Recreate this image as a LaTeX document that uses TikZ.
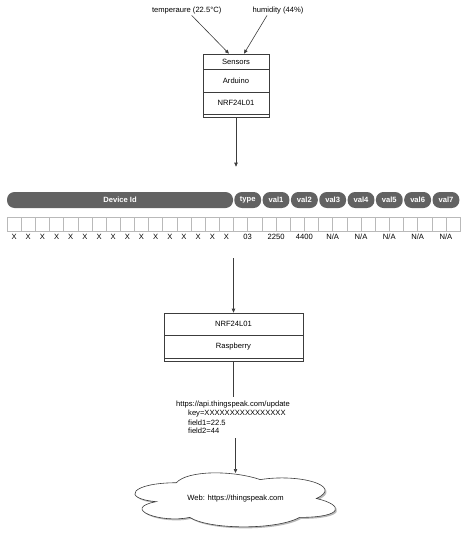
\documentclass[tikz,border=0pt]{standalone}
\usepackage{fontspec}
\setmainfont{Liberation Sans}
\usetikzlibrary{arrows.meta}
\definecolor{pillgray}{RGB}{98,98,98}
\definecolor{cellgray}{RGB}{185,185,185}
\definecolor{linegray}{RGB}{60,60,60}
\begin{document}
\begin{tikzpicture}[x=1pt,y=-1pt,
  txt/.style={font=\fontsize{7.6}{9}\selectfont, inner sep=1pt},
  rowbox/.style={draw=linegray, line width=0.6pt, fill=white, inner sep=0pt, font=\fontsize{7.6}{9}\selectfont},
  pill/.style={fill=pillgray, rounded corners=7.5pt, minimum height=16pt, inner sep=0pt, text=white, font=\fontsize{7.6}{9}\selectfont\bfseries},
  cellbox/.style={draw=cellgray, line width=0.6pt, fill=white, minimum width=14.16pt, minimum height=14pt, inner sep=0pt},
  arr/.style={-{Triangle[length=4pt,width=3.4pt]}, line width=0.6pt, draw=linegray},
  conn/.style={line width=0.6pt, draw=linegray},
  cloudline/.style={line width=0.6pt, draw=linegray}
]
\useasboundingbox (0,0) rectangle (467,543);

% top labels
\node[txt] (temp) at (186.7,10.7) {temperaure (22.5°C)};
\node[txt] (hum) at (278,10.7) {humidity (44\%)};

% MCU box
\node[rowbox, minimum width=66pt, minimum height=15pt] (sens) at (236,61.5) {Sensors};
\node[rowbox, minimum width=66pt, minimum height=23pt] (ard) at (236,80.5) {Arduino};
\node[rowbox, minimum width=66pt, minimum height=22pt] (nrf) at (236,103) {NRF24L01};
\node[rowbox, minimum width=66pt, minimum height=3pt] (strip1) at (236,115.5) {};

\draw[arr] ([xshift=5pt]temp.south) -- ([xshift=-7pt]sens.north);
\draw[arr] ([xshift=-11pt]hum.south) -- ([xshift=8pt]sens.north);

\coordinate (a1) at (236,166.7);
\draw[arr] (strip1.south) -- (a1);

% packet header pills
\node[pill, minimum width=226pt] (devid) at (120,200) {Device Id};
\foreach \i/\t in {0/type,1/val1,2/val2,3/val3,4/val4,5/val5,6/val6,7/val7}{
  \node[pill, minimum width=26.8pt] (f\i) at ({7+14.16*(17+2*\i)},200) {\t};
}

% cells
\foreach \k in {0,...,31}{
  \node[cellbox] (c\k) at ({7+14.16*(\k+0.5)},224) {};
}
\foreach \k in {0,...,15}{
  \node[txt] (x\k) at ({7+14.16*(\k+0.5)},237) {X};
}
\foreach \i/\t in {0/03,1/2250,2/4400,3/N\slash A,4/N\slash A,5/N\slash A,6/N\slash A,7/N\slash A}{
  \node[txt] (v\i) at ({7+14.16*(17+2*\i)},236.8) {\t};
}

% Raspberry box
\node[rowbox, minimum width=139pt, minimum height=22pt] (nrf2) at (233.5,324) {NRF24L01};
\node[rowbox, minimum width=139pt, minimum height=23.3pt] (rasp) at (233.5,346.7) {Raspberry};
\node[rowbox, minimum width=139pt, minimum height=2.7pt] (strip2) at (233.5,359.7) {};

\coordinate (a2) at (233.5,258.3);
\draw[arr] (a2) -- (nrf2.north);

% URL text
\coordinate (a3) at (233.5,397);
\draw[conn] (strip2.south) -- (a3);
\node[txt] (url) at (233,404.3) {https://api.thingspeak.com/update};
\node[txt, anchor=west] (key) at (187,413.3) {key=XXXXXXXXXXXXXXXX};
\node[txt, anchor=west] (fld1) at (187,422.3) {field1=22.5};
\node[txt, anchor=west] (fld2) at (187,431.2) {field2=44};

% cloud (shadow, then cloud)
\def\cloudpath{(0.25,0.25) .. controls (0.05,0.25) and (0,0.5) .. (0.16,0.55)
  .. controls (0,0.66) and (0.18,0.9) .. (0.31,0.8)
  .. controls (0.4,1) and (0.7,1) .. (0.8,0.8)
  .. controls (1,0.8) and (1,0.6) .. (0.875,0.5)
  .. controls (1,0.3) and (0.8,0.1) .. (0.625,0.2)
  .. controls (0.5,0.05) and (0.3,0.05) .. (0.25,0.25) -- cycle}
\begin{scope}[shift={(121.8,468.5)}, x=224pt, y=-63pt]
  \fill[gray!55] \cloudpath;
\end{scope}
\begin{scope}[shift={(120.3,467)}, x=224pt, y=-63pt]
  \filldraw[cloudline, fill=white] \cloudpath;
\end{scope}
\node[txt] (webtxt) at (235.5,499) {Web: https://thingspeak.com};

\coordinate (a4) at (235.5,438);
\coordinate (webtop) at (235.5,473);
\draw[arr] (a4) -- (webtop);
\end{tikzpicture}
\end{document}
